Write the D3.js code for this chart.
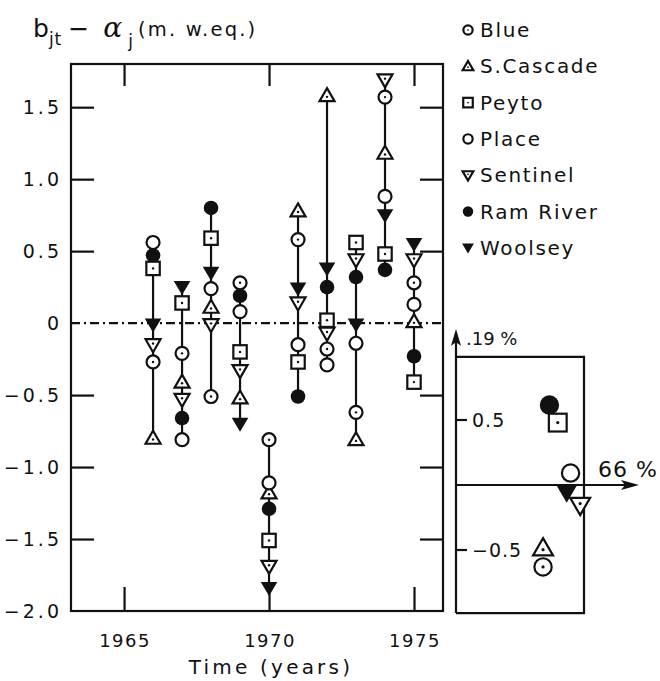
<!DOCTYPE html>
<html><head><meta charset="utf-8">
<script src="https://cdn.jsdelivr.net/npm/d3@7"></script>
<style>
body{margin:0;background:#fff;}
svg{display:block;}
text{font-family:"DejaVu Sans",sans-serif;fill:#111;}
</style></head>
<body><svg id="c" width="660" height="681"></svg>
<script>
// ---- data ----
const years = [1966,1967,1968,1969,1970,1971,1972,1973,1974,1975];
const glaciers = ["Blue","S.Cascade","Peyto","Place","Sentinel","Ram River","Woolsey"];
const symbolsOf = ["circleDot","triUpDot","squareDot","circle","triDownDot","filledCircle","filledTriDown"];
const blue      = [-0.27,-0.21,-0.51, 0.28,-0.81, 0.58,-0.18,-0.62, 1.57, 0.28];
const sCascade  = [-0.80,-0.41, 0.11,-0.52,-1.18, 0.78, 1.58,-0.81, 1.18, 0.01];
const peyto     = [ 0.38, 0.14, 0.59,-0.20,-1.51,-0.27, 0.02, 0.56, 0.48,-0.41];
const place     = [ 0.56,-0.81, 0.24, 0.08,-1.11,-0.15,-0.29,-0.14, 0.88, 0.13];
const sentinel  = [-0.15,-0.53,-0.01,-0.33,-1.69, 0.14,-0.07, 0.44, 1.69, 0.44];
const ramRiver  = [ 0.47,-0.66, 0.80, 0.19,-1.29,-0.51, 0.25, 0.32, 0.37,-0.23];
const woolsey   = [-0.01, 0.25, 0.35,-0.70,-1.84, 0.24, 0.38,-0.01, 0.75, 0.55];
const seriesValues = [blue,sCascade,peyto,place,sentinel,ramRiver,woolsey];
const yTicks = [1.5,1.0,0.5,0,-0.5,-1.0,-1.5,-2.0];
const yTickLabels = ["1.5","1.0","0.5","0","\u22120.5","\u22121.0","\u22121.5","\u22122.0"];
const xTicks = [1965,1970,1975];
// inset loadings (PC1 66%, PC2 19%)
const pc1 = [0.68,0.68,0.795,0.895,0.97,0.73,0.865];
const pc2 = [-0.63,-0.485,0.48,0.092,-0.155,0.615,-0.054];
const insetTicks = [0.5,-0.5];
const insetTickLabels = ["0.5","\u22120.5"];

// ---- layout ----
const svg = d3.select("#c");
const L=71,R=443,T=64,B=611;
const x = d3.scaleLinear().domain([1963.17,1976.0]).range([L,R]);
const y = d3.scaleLinear().domain([-2,1.8]).range([B,T]);
const SW=2.2;

function drawSymbol(g, type, cx, cy, s){
  const k = s/7;
  const grp = g.append("g").attr("transform",`translate(${cx},${cy})`);
  const dot = (dy)=>grp.append("circle").attr("cy",dy||0).attr("r",1.2*k).attr("fill","#111");
  if(type==="circle"||type==="circleDot"){
    grp.append("circle").attr("r",6.5*k).attr("fill","#fff").attr("stroke","#111").attr("stroke-width",SW);
    if(type==="circleDot") dot();
  } else if(type==="filledCircle"){
    grp.append("circle").attr("r",7.3*k).attr("fill","#111");
  } else if(type==="squareDot"){
    grp.append("rect").attr("x",-6.7*k).attr("y",-6.7*k).attr("width",13.4*k).attr("height",13.4*k)
      .attr("fill","#fff").attr("stroke","#111").attr("stroke-width",SW);
    dot();
  } else if(type==="triUpDot"){
    grp.append("path").attr("d",`M0,${-7.5*k}L${7.5*k},${5.5*k}L${-7.5*k},${5.5*k}Z`)
      .attr("fill","#fff").attr("stroke","#111").attr("stroke-width",SW);
    dot(1.2*k);
  } else if(type==="triDownDot"){
    grp.append("path").attr("d",`M0,${7.5*k}L${7.5*k},${-5.5*k}L${-7.5*k},${-5.5*k}Z`)
      .attr("fill","#fff").attr("stroke","#111").attr("stroke-width",SW);
    dot(-1.2*k);
  } else if(type==="filledTriDown"){
    grp.append("path").attr("d",`M0,${8*k}L${8.3*k},${-6*k}L${-8.3*k},${-6*k}Z`).attr("fill","#111");
  }
}
const isFilled = t => t.startsWith("filled");
const drawOrder = d3.range(glaciers.length).sort((a,b)=>(isFilled(symbolsOf[b])-isFilled(symbolsOf[a]))||a-b);

// frame
svg.append("rect").attr("x",L).attr("y",T).attr("width",R-L).attr("height",B-T)
  .attr("fill","none").attr("stroke","#111").attr("stroke-width",2.2);

const styleAxis = g=>{g.select(".domain").remove();g.selectAll("line").attr("stroke","#111").attr("stroke-width",2.2);};
const innerTicks = yTicks.filter(v=>v!==0&&v!==-2);
svg.append("g").attr("transform",`translate(${L},0)`)
  .call(d3.axisRight(y).tickValues(innerTicks).tickSize(23).tickFormat("")).call(styleAxis);
svg.append("g").attr("transform",`translate(${R},0)`)
  .call(d3.axisLeft(y).tickValues(innerTicks).tickSize(23).tickFormat("")).call(styleAxis);
svg.append("g").selectAll("text").data(yTicks).join("text")
  .attr("x",62).attr("y",d=>y(d)+7).attr("text-anchor","end")
  .attr("font-size",19).attr("letter-spacing",3)
  .text((d,i)=>yTickLabels[i]);

svg.append("g").attr("transform",`translate(0,${B})`)
  .call(d3.axisTop(x).tickValues(xTicks).tickSize(24).tickFormat("")).call(styleAxis);
svg.append("g").attr("transform",`translate(0,${T})`)
  .call(d3.axisBottom(x).tickValues(xTicks).tickSize(22).tickFormat("")).call(styleAxis);
svg.append("g").selectAll("text").data(xTicks).join("text")
  .attr("x",d=>x(d)+1).attr("y",647).attr("text-anchor","middle")
  .attr("font-size",18).attr("letter-spacing",1.5).text(d=>d);
svg.append("text").attr("x",271).attr("y",674).attr("text-anchor","middle")
  .attr("font-size",20).attr("letter-spacing",3.2).text("Time  (years)");

// y title
const tt = svg.append("text").attr("x",33).attr("y",37).attr("font-size",25);
tt.append("tspan").text("b");
tt.append("tspan").attr("dy",8).attr("font-size",17).attr("letter-spacing",1).text("jt");
tt.append("tspan").attr("dy",-8).attr("dx",6).text("\u2212");
tt.append("tspan").attr("dx",14).attr("font-style","italic").attr("font-family","DejaVu Serif").attr("font-size",28).text("\u03B1");
tt.append("tspan").attr("dy",10).attr("dx",6).attr("font-size",17).text("j");
tt.append("tspan").attr("dy",-11).attr("dx",5).attr("font-size",19.5).attr("letter-spacing",2.2).text("(m. w.eq.)");

// zero line
svg.append("line").attr("x1",L).attr("x2",R).attr("y1",y(0)).attr("y2",y(0))
  .attr("stroke","#111").attr("stroke-width",2.2).attr("stroke-dasharray","9,4,2,4");

// vertical range lines
const plot = svg.append("g");
years.forEach((yr,i)=>{
  const vals = seriesValues.map(s=>s[i]);
  plot.append("line").attr("x1",x(yr)).attr("x2",x(yr))
    .attr("y1",y(d3.max(vals))).attr("y2",y(d3.min(vals)))
    .attr("stroke","#111").attr("stroke-width",2.2);
});
drawOrder.forEach(j=>{
  seriesValues[j].forEach((v,i)=>drawSymbol(plot,symbolsOf[j],x(years[i]),y(v),7));
});

// legend
const lg = svg.append("g");
glaciers.forEach((name,j)=>{
  const ly = 30 + j*36.3;
  drawSymbol(lg,symbolsOf[j],468,ly,5);
  lg.append("text").attr("x",480).attr("y",ly+7).attr("font-size",20).attr("letter-spacing",1.7).text(name);
});

// inset
const ix = d3.scaleLinear().domain([0,1]).range([456,584]);
const iy = d3.scaleLinear().domain([-1,1]).range([615,355]);
const ins = svg.append("g");
ins.append("path").attr("d",`M${ix(0)},${iy(0.985)}H${ix(1)}V${iy(-0.985)}H${ix(0)}`)
  .attr("fill","none").attr("stroke","#111").attr("stroke-width",2.2);
ins.append("line").attr("x1",ix(0)).attr("x2",ix(0)).attr("y1",iy(-0.985)).attr("y2",338)
  .attr("stroke","#111").attr("stroke-width",2.2);
ins.append("path").attr("d",`M${ix(0)},329L${ix(0)+5},346L${ix(0)},342L${ix(0)-5},346Z`).attr("fill","#111");
ins.append("line").attr("x1",ix(0)).attr("x2",630).attr("y1",iy(0)).attr("y2",iy(0))
  .attr("stroke","#111").attr("stroke-width",2.2);
ins.append("path").attr("d",`M639,${iy(0)}L621,${iy(0)-5}L625,${iy(0)}L621,${iy(0)+5}Z`).attr("fill","#111");
ins.selectAll("line.t").data(insetTicks).join("line").attr("class","t")
  .attr("x1",ix(0)).attr("x2",ix(0)+11).attr("y1",d=>iy(d)).attr("y2",d=>iy(d))
  .attr("stroke","#111").attr("stroke-width",2.2);
ins.selectAll("text.t").data(insetTicks).join("text").attr("class","t")
  .attr("x",472).attr("y",d=>iy(d)+7).attr("font-size",19).attr("letter-spacing",1)
  .text((d,i)=>insetTickLabels[i]);
ins.append("text").attr("x",598).attr("y",477).attr("font-size",22).attr("letter-spacing",1).text("66 %");
ins.append("text").attr("x",466).attr("y",345).attr("font-size",18).attr("letter-spacing",0).text(".19 %");
drawOrder.forEach(j=>drawSymbol(ins,symbolsOf[j],ix(pc1[j]),iy(pc2[j]),9.3));
</script></body></html>
